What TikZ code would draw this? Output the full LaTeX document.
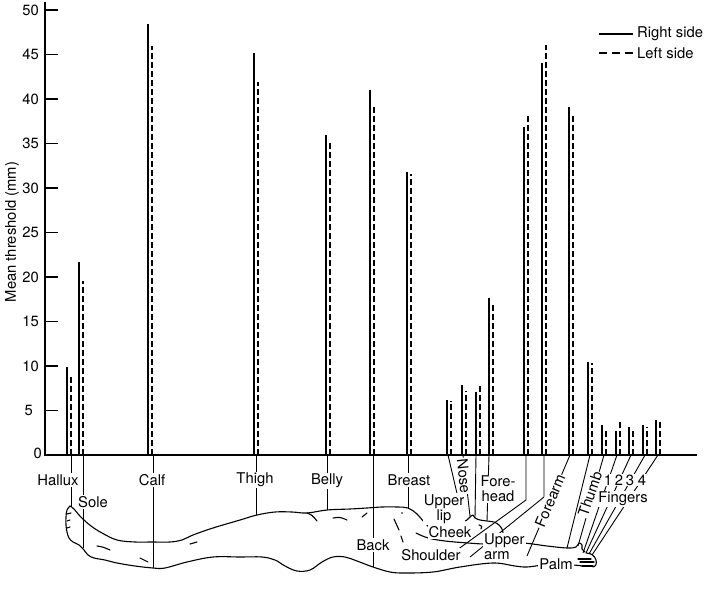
\documentclass[tikz,border=0pt]{standalone}
\usepackage{fontspec}
\setmainfont{TeX Gyre Heros}
\usetikzlibrary{positioning}

\begin{document}
\begin{tikzpicture}[x=1pt,y=-1pt,
  every node/.style={font=\fontsize{14.8}{15}\selectfont, inner sep=1pt},
  rside/.style={line width=1.5pt},
  lside/.style={line width=1.9pt, dash pattern=on 6pt off 3pt},
  axis/.style={line width=1.1pt},
  leader/.style={line width=0.9pt},
  body/.style={line width=1.1pt, line join=round, line cap=round},
  lbl/.style={fill=white}]
 \useasboundingbox (0,0) rectangle (726,596);

 % bars: right side solid, left side dashed
 \foreach \px/\rv/\lv in {67/9.9/9.0, 79/21.7/19.5, 148/48.4/45.9, 254/45.2/41.9,
   326/36.0/35.3, 370/41.0/39.1, 407/31.8/31.6, 447/6.2/6.1, 462/7.9/7.2,
   476/7.1/7.7, 489/17.6/16.8, 524/36.8/38.3, 542/44.1/46.1, 569/39.1/38.2,
   588/10.4/10.3, 602/3.4/2.8, 616/2.7/3.9, 629/3.2/2.8, 643/3.4/3.2, 656/3.9/4.0}
 {
   \draw[rside] (\px,455) -- (\px,{455-8.9*\rv});
   \draw[lside] ({\px+3.8},455) -- ({\px+3.8},{455-8.9*\lv});
 }

 % axes
 \draw[axis] (45,2) -- (45,455) -- (697,455);
 \foreach \v in {0,5,...,50}
   \draw[axis] (45,{455-8.9*\v}) -- (58,{455-8.9*\v});
 \foreach \v in {10,15,...,50}
   \node[anchor=east] (t\v) at (40,{455-8.9*\v}) {\v};
 \node[anchor=east] (t5) at (34,{455-8.9*5}) {5};
 \node[anchor=east] (t0) at (43,453) {0};
 \node[rotate=90] (ylab) at (12,232) {Mean threshold (mm)};

 % legend
 \coordinate (rleg-a) at (599,34); \coordinate (rleg-e) at (633,34);
 \coordinate (lleg-a) at (599,53); \coordinate (lleg-e) at (633,53);
 \draw[line width=1.3pt] (rleg-a) -- (rleg-e);
 \draw[line width=1.3pt, dash pattern=on 8pt off 5pt] (lleg-a) -- (lleg-e);
 \node (rtext) [right=3pt of rleg-e] {Right side};
 \node (ltext) [right=3pt of lleg-e] {Left side};

 % leaders from the baseline to the body
 \foreach \n/\bx/\ex/\ey in {hallux/71/71/507, sole/83/83/548, calf/153/153/568,
   thigh/256/256/515, belly/327/327/510, back/373/373/567, breast/408/408/508,
   lip/448/463/519, nose/463/470/516, cheek/476/475/518, forehead/489/487/521,
   forearm/570/527/556, palm/590/567/548, thumb/604/578/546,
   fa/617/583/553, fb/631/586/553, fc/645/589/554, fd/658/592/555}
 {
   \coordinate (\n-b) at (\bx,455);
   \coordinate (\n-e) at (\ex,\ey);
   \draw[leader] (\n-b) -- (\n-e);
 }
 \coordinate (shoulder-b) at (526,455); \coordinate (shoulder-k) at (526,500);
 \coordinate (shoulder-e) at (457,550);
 \coordinate (uarm-b) at (544,455); \coordinate (uarm-k) at (544,497);
 \coordinate (uarm-e) at (470,557);
 \draw[leader] (shoulder-b) -- (shoulder-k) -- (shoulder-e);
 \draw[leader] (uarm-b) -- (uarm-k) -- (uarm-e);

 % body outline
 \draw[body] plot[smooth, tension=0.6] coordinates {(70,506) (74,509) (79,515)
   (84,520) (91,526) (102,533) (117,540) (135,542) (152,542) (170,542) (182,540)
   (193,535) (213,528) (240,520) (257,515) (275,512) (292,512) (307,513) (327,510)
   (350,509) (367,508) (382,507) (397,507) (408,508) (417,514) (424,522) (430,528)};
 \draw[body] plot[smooth, tension=0.6] coordinates {(70,506) (67,510) (66,517)
   (66,525) (67,532) (69,538) (73,542) (79,545) (84,550) (88,555) (94,558)
   (105,560) (117,563) (135,566) (153,568) (165,568) (187,562) (213,557) (240,557)
   (262,557) (275,560) (285,566) (297,571) (310,570) (322,562) (333,557) (345,557)
   (357,561) (373,567) (390,572) (405,573) (433,572) (460,567) (493,563) (515,566)
   (527,567) (545,565) (572,565) (582,566)};
 \draw[body] plot[smooth, tension=0.5] coordinates {(446,527) (450,523) (453,521)
   (456,519) (459,521) (462,519) (465,521) (468,519) (471,516) (473,515) (475,518)
   (480,520) (487,521) (494,522) (499,525) (502,529) (503,533)};
 \draw[body] plot[smooth, tension=0.6] coordinates {(416,533) (428,538) (445,541)
   (468,543) (484,544) (503,544) (523,543) (547,546) (567,548) (576,547) (579,543)
   (582,545) (582,549) (585,552)};
 % hand
 \draw[body] (578,559) -- (591,559);
 \draw[body] (580,562) -- (594,562);
 \draw[body] (582,566) -- (593,566);
 \draw[body] (586,553) .. controls (597,553) and (599,566) .. (593,567);
 % creases
 \draw[body] (67,514) -- (71,513);
 \draw[body] (67,521) -- (70,520);
 \draw[body] (67,528) -- (70,527);
 \draw[body] (97,546) .. controls (103,547) .. (110,550);
 \draw[body] (140,558) -- (148,562);
 \draw[body] (190,544) -- (197,542);
 \draw[body] (307,513) .. controls (312,515) .. (317,521);
 \draw[body] (333,518) .. controls (340,517) .. (347,520);
 \draw[body] (362,517) -- (367,513);
 \draw[body] (394,519) -- (399,530);
 \draw[body] (401,536) -- (403,542);
 \fill (402,513) circle (0.9);
 \draw[body] (479,525) .. controls (482,526) .. (481,529);

 % labels
 \node[lbl] (Hallux) at (58,480) {Hallux};
 \node[lbl] (Sole) at (93,502) {Sole};
 \node[lbl] (Calf) at (152,480) {Calf};
 \node[lbl] (Thigh) at (255,480) {Thigh};
 \node[lbl] (Belly) at (327,481) {Belly};
 \node[lbl] (Back) at (373,545) {Back};
 \node[lbl] (Breast) at (409,480) {Breast};
 \node[lbl, align=center] (Lip) at (444,509) {Upper\\lip};
 \node[lbl, rotate=-84] (Nose) at (464,476) {Nose};
 \node[lbl] (Cheek) at (450,532) {Cheek};
 \node[lbl, align=center] (Forehead) at (498,489) {Fore-\\head};
 \node[lbl] (Shoulder) at (431,555) {Shoulder};
 \node[lbl, align=left, anchor=west] (Uarm) at (483,547) {Upper\\arm};
 \node[lbl, rotate=67] (Forearm) at (550,501) {Forearm};
 \node[lbl] (Palm) at (556,564) {Palm};
 \node[lbl, rotate=71] (Thumb) at (590,494) {Thumb};
 \node[lbl] (f1) at (608,480) {1};
 \node[lbl] (f2) at (619,480) {2};
 \node[lbl] (f3) at (630,480) {3};
 \node[lbl] (f4) at (642,480) {4};
 \node[lbl] (Fingers) at (623,499) {Fingers};
\end{tikzpicture}
\end{document}
